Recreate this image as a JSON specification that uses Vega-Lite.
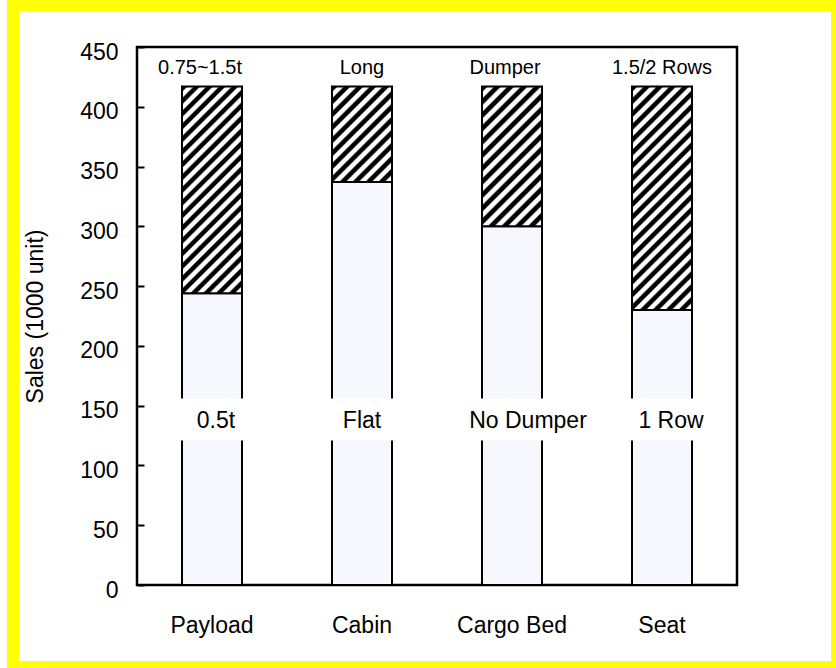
{
  "$schema": "https://vega.github.io/schema/vega-lite/v6.json",
  "width": 600,
  "height": 538,
  "autosize": {"type": "none"},
  "padding": {"left": 137, "top": 47, "right": 99, "bottom": 83},
  "background": "#ffffff",
  "config": {
    "font": "Liberation Sans",
    "view": {"stroke": "#000000", "strokeWidth": 2.5, "fill": "#ffffff"},
    "axis": {"labelColor": "#000000", "titleColor": "#000000", "grid": false}
  },
  "data": {
    "values": [
      {"category": "Payload", "segment": "0.5t", "part": "lower", "value": 244},
      {"category": "Payload", "segment": "0.75~1.5t", "part": "upper", "value": 173},
      {"category": "Cabin", "segment": "Flat", "part": "lower", "value": 337},
      {"category": "Cabin", "segment": "Long", "part": "upper", "value": 80},
      {"category": "Cargo Bed", "segment": "No Dumper", "part": "lower", "value": 300},
      {"category": "Cargo Bed", "segment": "Dumper", "part": "upper", "value": 117},
      {"category": "Seat", "segment": "1 Row", "part": "lower", "value": 230},
      {"category": "Seat", "segment": "1.5/2 Rows", "part": "upper", "value": 187}
    ]
  },
  "transform": [
    {"joinaggregate": [{"op": "sum", "field": "value", "as": "total"}], "groupby": ["category"]}
  ],
  "encoding": {
    "x": {
      "field": "category",
      "type": "nominal",
      "sort": ["Payload", "Cabin", "Cargo Bed", "Seat"],
      "scale": {"paddingInner": 0.6, "paddingOuter": 0.3},
      "axis": {
        "title": null,
        "labelAngle": 0,
        "labelFontSize": 23,
        "labelBaseline": "alphabetic",
        "ticks": false,
        "tickSize": 0,
        "labelPadding": 47,
        "domain": false
      }
    }
  },
  "layer": [
    {
      "data": {"values": [{"frame": "outer"}]},
      "mark": {"type": "rect", "x": -124, "x2": 700, "y": -42, "y2": 620, "fill": null, "stroke": "#ffff00", "strokeWidth": 12},
      "encoding": {"x": null}
    },
    {
      "mark": {"type": "bar", "stroke": "#000000", "strokeWidth": 2},
      "encoding": {
        "y": {
          "field": "value",
          "type": "quantitative",
          "stack": "zero",
          "scale": {"domain": [0, 450], "nice": false},
          "axis": {
            "title": "Sales (1000 unit)",
            "titleFontSize": 23,
            "titleFontWeight": "normal",
            "titlePadding": 32,
            "values": [0, 50, 100, 150, 200, 250, 300, 350, 400, 450],
            "labelFontSize": 23,
            "labelBaseline": "alphabetic",
            "labelOffset": 12,
            "tickSize": -7,
            "tickColor": "#000000",
            "tickWidth": 2,
            "labelPadding": 26,
            "domain": false
          }
        },
        "order": {"field": "part", "type": "ordinal"},
        "fill": {
          "condition": [
            {"test": "datum.part === 'lower'", "value": "#f7f7fe"},
            {"test": "datum.category === 'Payload'", "value": {"gradient": "linear", "x1": 0, "y1": 0, "x2": 0.3447, "y2": 1.19, "stops": [
              {"offset": 0, "color": "#000"}, {"offset": 0.01667, "color": "#000"}, {"offset": 0.02381, "color": "#fff"}, {"offset": 0.04048, "color": "#fff"},
              {"offset": 0.04762, "color": "#000"}, {"offset": 0.06429, "color": "#000"}, {"offset": 0.07143, "color": "#fff"}, {"offset": 0.0881, "color": "#fff"},
              {"offset": 0.09524, "color": "#000"}, {"offset": 0.1119, "color": "#000"}, {"offset": 0.11905, "color": "#fff"}, {"offset": 0.13571, "color": "#fff"},
              {"offset": 0.14286, "color": "#000"}, {"offset": 0.15952, "color": "#000"}, {"offset": 0.16667, "color": "#fff"}, {"offset": 0.18333, "color": "#fff"},
              {"offset": 0.19048, "color": "#000"}, {"offset": 0.20714, "color": "#000"}, {"offset": 0.21429, "color": "#fff"}, {"offset": 0.23095, "color": "#fff"},
              {"offset": 0.2381, "color": "#000"}, {"offset": 0.25476, "color": "#000"}, {"offset": 0.2619, "color": "#fff"}, {"offset": 0.27857, "color": "#fff"},
              {"offset": 0.28571, "color": "#000"}, {"offset": 0.30238, "color": "#000"}, {"offset": 0.30952, "color": "#fff"}, {"offset": 0.32619, "color": "#fff"},
              {"offset": 0.33333, "color": "#000"}, {"offset": 0.35, "color": "#000"}, {"offset": 0.35714, "color": "#fff"}, {"offset": 0.37381, "color": "#fff"},
              {"offset": 0.38095, "color": "#000"}, {"offset": 0.39762, "color": "#000"}, {"offset": 0.40476, "color": "#fff"}, {"offset": 0.42143, "color": "#fff"},
              {"offset": 0.42857, "color": "#000"}, {"offset": 0.44524, "color": "#000"}, {"offset": 0.45238, "color": "#fff"}, {"offset": 0.46905, "color": "#fff"},
              {"offset": 0.47619, "color": "#000"}, {"offset": 0.49286, "color": "#000"}, {"offset": 0.5, "color": "#fff"}, {"offset": 0.51667, "color": "#fff"},
              {"offset": 0.52381, "color": "#000"}, {"offset": 0.54048, "color": "#000"}, {"offset": 0.54762, "color": "#fff"}, {"offset": 0.56429, "color": "#fff"},
              {"offset": 0.57143, "color": "#000"}, {"offset": 0.5881, "color": "#000"}, {"offset": 0.59524, "color": "#fff"}, {"offset": 0.6119, "color": "#fff"},
              {"offset": 0.61905, "color": "#000"}, {"offset": 0.63571, "color": "#000"}, {"offset": 0.64286, "color": "#fff"}, {"offset": 0.65952, "color": "#fff"},
              {"offset": 0.66667, "color": "#000"}, {"offset": 0.68333, "color": "#000"}, {"offset": 0.69048, "color": "#fff"}, {"offset": 0.70714, "color": "#fff"},
              {"offset": 0.71429, "color": "#000"}, {"offset": 0.73095, "color": "#000"}, {"offset": 0.7381, "color": "#fff"}, {"offset": 0.75476, "color": "#fff"},
              {"offset": 0.7619, "color": "#000"}, {"offset": 0.77857, "color": "#000"}, {"offset": 0.78571, "color": "#fff"}, {"offset": 0.80238, "color": "#fff"},
              {"offset": 0.80952, "color": "#000"}, {"offset": 0.82619, "color": "#000"}, {"offset": 0.83333, "color": "#fff"}, {"offset": 0.85, "color": "#fff"},
              {"offset": 0.85714, "color": "#000"}, {"offset": 0.87381, "color": "#000"}, {"offset": 0.88095, "color": "#fff"}, {"offset": 0.89762, "color": "#fff"},
              {"offset": 0.90476, "color": "#000"}, {"offset": 0.92143, "color": "#000"}, {"offset": 0.92857, "color": "#fff"}, {"offset": 0.94524, "color": "#fff"},
              {"offset": 0.95238, "color": "#000"}, {"offset": 0.96905, "color": "#000"}, {"offset": 0.97619, "color": "#fff"}, {"offset": 0.99286, "color": "#fff"},
              {"offset": 1, "color": "#000"}
            ]}},
            {"test": "datum.category === 'Cabin'", "value": {"gradient": "linear", "x1": 0, "y1": 0, "x2": 0.7317, "y2": 1.168, "stops": [
              {"offset": 0, "color": "#000"}, {"offset": 0.02917, "color": "#000"}, {"offset": 0.04167, "color": "#fff"}, {"offset": 0.07083, "color": "#fff"},
              {"offset": 0.08333, "color": "#000"}, {"offset": 0.1125, "color": "#000"}, {"offset": 0.125, "color": "#fff"}, {"offset": 0.15417, "color": "#fff"},
              {"offset": 0.16667, "color": "#000"}, {"offset": 0.19583, "color": "#000"}, {"offset": 0.20833, "color": "#fff"}, {"offset": 0.2375, "color": "#fff"},
              {"offset": 0.25, "color": "#000"}, {"offset": 0.27917, "color": "#000"}, {"offset": 0.29167, "color": "#fff"}, {"offset": 0.32083, "color": "#fff"},
              {"offset": 0.33333, "color": "#000"}, {"offset": 0.3625, "color": "#000"}, {"offset": 0.375, "color": "#fff"}, {"offset": 0.40417, "color": "#fff"},
              {"offset": 0.41667, "color": "#000"}, {"offset": 0.44583, "color": "#000"}, {"offset": 0.45833, "color": "#fff"}, {"offset": 0.4875, "color": "#fff"},
              {"offset": 0.5, "color": "#000"}, {"offset": 0.52917, "color": "#000"}, {"offset": 0.54167, "color": "#fff"}, {"offset": 0.57083, "color": "#fff"},
              {"offset": 0.58333, "color": "#000"}, {"offset": 0.6125, "color": "#000"}, {"offset": 0.625, "color": "#fff"}, {"offset": 0.65417, "color": "#fff"},
              {"offset": 0.66667, "color": "#000"}, {"offset": 0.69583, "color": "#000"}, {"offset": 0.70833, "color": "#fff"}, {"offset": 0.7375, "color": "#fff"},
              {"offset": 0.75, "color": "#000"}, {"offset": 0.77917, "color": "#000"}, {"offset": 0.79167, "color": "#fff"}, {"offset": 0.82083, "color": "#fff"},
              {"offset": 0.83333, "color": "#000"}, {"offset": 0.8625, "color": "#000"}, {"offset": 0.875, "color": "#fff"}, {"offset": 0.90417, "color": "#fff"},
              {"offset": 0.91667, "color": "#000"}, {"offset": 0.94583, "color": "#000"}, {"offset": 0.95833, "color": "#fff"}, {"offset": 0.9875, "color": "#fff"},
              {"offset": 1, "color": "#000"}
            ]}},
            {"test": "datum.category === 'Cargo Bed'", "value": {"gradient": "linear", "x1": 0, "y1": 0, "x2": 0.5169, "y2": 1.207, "stops": [
              {"offset": 0, "color": "#000"}, {"offset": 0.02333, "color": "#000"}, {"offset": 0.03333, "color": "#fff"}, {"offset": 0.05667, "color": "#fff"},
              {"offset": 0.06667, "color": "#000"}, {"offset": 0.09, "color": "#000"}, {"offset": 0.1, "color": "#fff"}, {"offset": 0.12333, "color": "#fff"},
              {"offset": 0.13333, "color": "#000"}, {"offset": 0.15667, "color": "#000"}, {"offset": 0.16667, "color": "#fff"}, {"offset": 0.19, "color": "#fff"},
              {"offset": 0.2, "color": "#000"}, {"offset": 0.22333, "color": "#000"}, {"offset": 0.23333, "color": "#fff"}, {"offset": 0.25667, "color": "#fff"},
              {"offset": 0.26667, "color": "#000"}, {"offset": 0.29, "color": "#000"}, {"offset": 0.3, "color": "#fff"}, {"offset": 0.32333, "color": "#fff"},
              {"offset": 0.33333, "color": "#000"}, {"offset": 0.35667, "color": "#000"}, {"offset": 0.36667, "color": "#fff"}, {"offset": 0.39, "color": "#fff"},
              {"offset": 0.4, "color": "#000"}, {"offset": 0.42333, "color": "#000"}, {"offset": 0.43333, "color": "#fff"}, {"offset": 0.45667, "color": "#fff"},
              {"offset": 0.46667, "color": "#000"}, {"offset": 0.49, "color": "#000"}, {"offset": 0.5, "color": "#fff"}, {"offset": 0.52333, "color": "#fff"},
              {"offset": 0.53333, "color": "#000"}, {"offset": 0.55667, "color": "#000"}, {"offset": 0.56667, "color": "#fff"}, {"offset": 0.59, "color": "#fff"},
              {"offset": 0.6, "color": "#000"}, {"offset": 0.62333, "color": "#000"}, {"offset": 0.63333, "color": "#fff"}, {"offset": 0.65667, "color": "#fff"},
              {"offset": 0.66667, "color": "#000"}, {"offset": 0.69, "color": "#000"}, {"offset": 0.7, "color": "#fff"}, {"offset": 0.72333, "color": "#fff"},
              {"offset": 0.73333, "color": "#000"}, {"offset": 0.75667, "color": "#000"}, {"offset": 0.76667, "color": "#fff"}, {"offset": 0.79, "color": "#fff"},
              {"offset": 0.8, "color": "#000"}, {"offset": 0.82333, "color": "#000"}, {"offset": 0.83333, "color": "#fff"}, {"offset": 0.85667, "color": "#fff"},
              {"offset": 0.86667, "color": "#000"}, {"offset": 0.89, "color": "#000"}, {"offset": 0.9, "color": "#fff"}, {"offset": 0.92333, "color": "#fff"},
              {"offset": 0.93333, "color": "#000"}, {"offset": 0.95667, "color": "#000"}, {"offset": 0.96667, "color": "#fff"}, {"offset": 0.99, "color": "#fff"},
              {"offset": 1, "color": "#000"}
            ]}}
          ],
          "value": {"gradient": "linear", "x1": 0, "y1": 0, "x2": 0.3171, "y2": 1.183, "stops": [
            {"offset": 0, "color": "#000"}, {"offset": 0.01591, "color": "#000"}, {"offset": 0.02273, "color": "#fff"}, {"offset": 0.03864, "color": "#fff"},
            {"offset": 0.04545, "color": "#000"}, {"offset": 0.06136, "color": "#000"}, {"offset": 0.06818, "color": "#fff"}, {"offset": 0.08409, "color": "#fff"},
            {"offset": 0.09091, "color": "#000"}, {"offset": 0.10682, "color": "#000"}, {"offset": 0.11364, "color": "#fff"}, {"offset": 0.12955, "color": "#fff"},
            {"offset": 0.13636, "color": "#000"}, {"offset": 0.15227, "color": "#000"}, {"offset": 0.15909, "color": "#fff"}, {"offset": 0.175, "color": "#fff"},
            {"offset": 0.18182, "color": "#000"}, {"offset": 0.19773, "color": "#000"}, {"offset": 0.20455, "color": "#fff"}, {"offset": 0.22045, "color": "#fff"},
            {"offset": 0.22727, "color": "#000"}, {"offset": 0.24318, "color": "#000"}, {"offset": 0.25, "color": "#fff"}, {"offset": 0.26591, "color": "#fff"},
            {"offset": 0.27273, "color": "#000"}, {"offset": 0.28864, "color": "#000"}, {"offset": 0.29545, "color": "#fff"}, {"offset": 0.31136, "color": "#fff"},
            {"offset": 0.31818, "color": "#000"}, {"offset": 0.33409, "color": "#000"}, {"offset": 0.34091, "color": "#fff"}, {"offset": 0.35682, "color": "#fff"},
            {"offset": 0.36364, "color": "#000"}, {"offset": 0.37955, "color": "#000"}, {"offset": 0.38636, "color": "#fff"}, {"offset": 0.40227, "color": "#fff"},
            {"offset": 0.40909, "color": "#000"}, {"offset": 0.425, "color": "#000"}, {"offset": 0.43182, "color": "#fff"}, {"offset": 0.44773, "color": "#fff"},
            {"offset": 0.45455, "color": "#000"}, {"offset": 0.47045, "color": "#000"}, {"offset": 0.47727, "color": "#fff"}, {"offset": 0.49318, "color": "#fff"},
            {"offset": 0.5, "color": "#000"}, {"offset": 0.51591, "color": "#000"}, {"offset": 0.52273, "color": "#fff"}, {"offset": 0.53864, "color": "#fff"},
            {"offset": 0.54545, "color": "#000"}, {"offset": 0.56136, "color": "#000"}, {"offset": 0.56818, "color": "#fff"}, {"offset": 0.58409, "color": "#fff"},
            {"offset": 0.59091, "color": "#000"}, {"offset": 0.60682, "color": "#000"}, {"offset": 0.61364, "color": "#fff"}, {"offset": 0.62955, "color": "#fff"},
            {"offset": 0.63636, "color": "#000"}, {"offset": 0.65227, "color": "#000"}, {"offset": 0.65909, "color": "#fff"}, {"offset": 0.675, "color": "#fff"},
            {"offset": 0.68182, "color": "#000"}, {"offset": 0.69773, "color": "#000"}, {"offset": 0.70455, "color": "#fff"}, {"offset": 0.72045, "color": "#fff"},
            {"offset": 0.72727, "color": "#000"}, {"offset": 0.74318, "color": "#000"}, {"offset": 0.75, "color": "#fff"}, {"offset": 0.76591, "color": "#fff"},
            {"offset": 0.77273, "color": "#000"}, {"offset": 0.78864, "color": "#000"}, {"offset": 0.79545, "color": "#fff"}, {"offset": 0.81136, "color": "#fff"},
            {"offset": 0.81818, "color": "#000"}, {"offset": 0.83409, "color": "#000"}, {"offset": 0.84091, "color": "#fff"}, {"offset": 0.85682, "color": "#fff"},
            {"offset": 0.86364, "color": "#000"}, {"offset": 0.87955, "color": "#000"}, {"offset": 0.88636, "color": "#fff"}, {"offset": 0.90227, "color": "#fff"},
            {"offset": 0.90909, "color": "#000"}, {"offset": 0.925, "color": "#000"}, {"offset": 0.93182, "color": "#fff"}, {"offset": 0.94773, "color": "#fff"},
            {"offset": 0.95455, "color": "#000"}, {"offset": 0.97045, "color": "#000"}, {"offset": 0.97727, "color": "#fff"}, {"offset": 0.99318, "color": "#fff"},
            {"offset": 1, "color": "#000"}
          ]}
        }
      }
    },
    {
      "transform": [{"filter": "datum.part === 'lower'"}],
      "mark": {"type": "rect", "fill": "#ffffff", "stroke": "#ffffff", "strokeWidth": 4},
      "encoding": {
        "y": {"datum": 122.5, "type": "quantitative"},
        "y2": {"datum": 154.3}
      }
    },
    {
      "transform": [{"filter": "datum.segment === 'Long' || datum.segment === '1.5/2 Rows'"}],
      "mark": {"type": "text", "fontSize": 20, "baseline": "alphabetic", "dy": -12, "color": "#000000"},
      "encoding": {"y": {"field": "total", "type": "quantitative"}, "text": {"field": "segment"}}
    },
    {
      "transform": [{"filter": "datum.segment === '0.75~1.5t'"}],
      "mark": {"type": "text", "fontSize": 20, "baseline": "alphabetic", "dy": -12, "dx": -12, "color": "#000000"},
      "encoding": {"y": {"field": "total", "type": "quantitative"}, "text": {"field": "segment"}}
    },
    {
      "transform": [{"filter": "datum.segment === 'Dumper'"}],
      "mark": {"type": "text", "fontSize": 20, "baseline": "alphabetic", "dy": -12, "dx": -7, "color": "#000000"},
      "encoding": {"y": {"field": "total", "type": "quantitative"}, "text": {"field": "segment"}}
    },
    {
      "transform": [{"filter": "datum.segment === 'Flat'"}],
      "mark": {"type": "text", "fontSize": 23, "baseline": "alphabetic", "color": "#000000"},
      "encoding": {"y": {"datum": 131.5, "type": "quantitative"}, "text": {"field": "segment"}}
    },
    {
      "transform": [{"filter": "datum.segment === '0.5t'"}],
      "mark": {"type": "text", "fontSize": 23, "baseline": "alphabetic", "dx": 4, "color": "#000000"},
      "encoding": {"y": {"datum": 131.5, "type": "quantitative"}, "text": {"field": "segment"}}
    },
    {
      "transform": [{"filter": "datum.segment === 'No Dumper'"}],
      "mark": {"type": "text", "fontSize": 23, "baseline": "alphabetic", "dx": 16, "color": "#000000"},
      "encoding": {"y": {"datum": 131.5, "type": "quantitative"}, "text": {"field": "segment"}}
    },
    {
      "transform": [{"filter": "datum.segment === '1 Row'"}],
      "mark": {"type": "text", "fontSize": 23, "baseline": "alphabetic", "dx": 9, "color": "#000000"},
      "encoding": {"y": {"datum": 131.5, "type": "quantitative"}, "text": {"field": "segment"}}
    }
  ]
}
